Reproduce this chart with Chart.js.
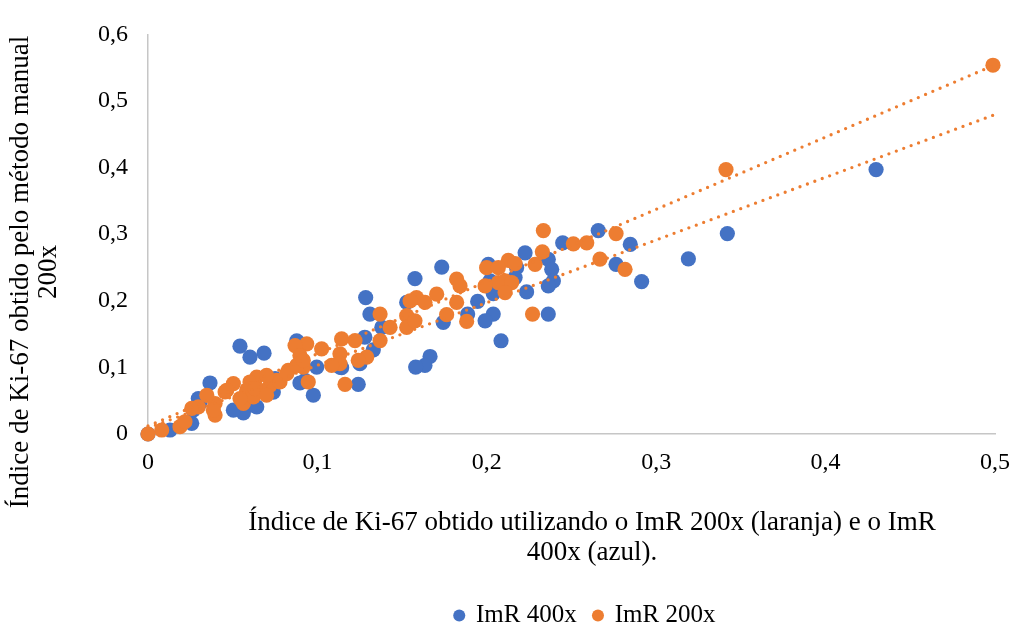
<!DOCTYPE html>
<html>
<head>
<meta charset="utf-8">
<script src="https://cdn.jsdelivr.net/npm/chart.js@4.4.0/dist/chart.umd.min.js"></script>
<style>
html,body{margin:0;padding:0;background:#fff;}
#wrap{width:1013px;height:623px;position:relative;}
</style>
</head>
<body>
<div id="wrap"><canvas id="c" width="1013" height="623"></canvas></div>
<script>
// ---- data ----
const seriesNames = ["ImR 400x", "ImR 200x"];
const xTitleLines = ["Índice de Ki-67 obtido utilizando o ImR 200x (laranja) e o ImR", "400x (azul)."];
const yTitleLines = ["Índice de Ki-67 obtido pelo método manual", "200x"];
const xTickValues = [0, 0.1, 0.2, 0.3, 0.4, 0.5];
const yTickValues = [0, 0.1, 0.2, 0.3, 0.4, 0.5, 0.6];

const blue400x = [
[0.4298,0.397],[0.342,0.301],[0.319,0.263],[0.2914,0.2288],[0.2847,0.2846],[0.2763,0.2548],
[0.2658,0.3055],[0.2448,0.287],[0.2363,0.2622],[0.2383,0.2473],[0.2393,0.2299],[0.2363,0.2224],
[0.2363,0.180],[0.2226,0.272],[0.2235,0.2134],[0.2176,0.2497],[0.2167,0.2348],[0.2019,0.2299],
[0.2009,0.2548],[0.2038,0.2109],[0.2038,0.180],[0.199,0.170],[0.1946,0.199],[0.1887,0.180],
[0.2084,0.140],[0.1743,0.1676],[0.1734,0.2507],[0.1576,0.2333],[0.1527,0.1975],[0.1285,0.2049],
[0.131,0.180],[0.138,0.160],[0.1665,0.1164],[0.1635,0.103],[0.158,0.1005],[0.128,0.1453],
[0.133,0.1264],[0.1241,0.0746],[0.1251,0.1055],[0.1143,0.0995],[0.1133,0.1005],[0.0996,0.1005],
[0.0976,0.0582],[0.0927,0.0806],[0.0897,0.1358],[0.0878,0.140],[0.0897,0.0766],[0.075,0.083],
[0.074,0.063],[0.0685,0.1214],[0.0602,0.1154],[0.0543,0.1318],[0.0366,0.0766],[0.0642,0.0408],
[0.0622,0.0433],[0.0563,0.0318],[0.0504,0.0358],[0.0307,0.0467],[0.0297,0.0533],[0.0267,0.0358],
[0.0258,0.016],[0.013,0.006],[0.0,0.0]
];
const orange200x = [
[0.4988,0.5537],[0.3412,0.397],[0.2763,0.301],[0.2668,0.2627],[0.2816,0.2473],[0.2334,0.3055],
[0.2511,0.2855],[0.259,0.287],[0.2328,0.2736],[0.2285,0.2548],[0.2127,0.2607],[0.2167,0.2557],
[0.1999,0.2497],[0.2068,0.2497],[0.2108,0.2299],[0.2068,0.2273],[0.2147,0.2273],[0.2108,0.2124],
[0.199,0.2224],[0.1822,0.2324],[0.1842,0.2224],[0.1822,0.1975],[0.1763,0.1791],[0.1881,0.1691],
[0.227,0.180],[0.1704,0.21],[0.1585,0.2049],[0.1635,0.1975],[0.1547,0.200],[0.1527,0.1776],
[0.1527,0.160],[0.1576,0.170],[0.1429,0.160],[0.137,0.180],[0.137,0.1403],[0.1291,0.1154],
[0.1241,0.1104],[0.1222,0.1403],[0.1143,0.1428],[0.1133,0.1204],[0.1163,0.0746],[0.1025,0.1279],
[0.0937,0.1354],[0.0946,0.0781],[0.0917,0.1005],[0.1133,0.1055],[0.1084,0.103],[0.0868,0.1328],
[0.0897,0.1179],[0.0828,0.0955],[0.076,0.0806],[0.0642,0.0855],[0.0602,0.0781],[0.0583,0.0657],
[0.0563,0.0458],[0.0504,0.0757],[0.0455,0.0631],[0.0396,0.0284],[0.0396,0.0458],[0.0347,0.0582],
[0.0297,0.0408],[0.0258,0.0384],[0.0189,0.011],[0.0218,0.0184],[0.0081,0.006],[0.0,0.0],
[0.072,0.0731],[0.0661,0.0657],[0.070,0.088],[0.0622,0.0557],[0.0543,0.0533],[0.0386,0.0358],
[0.0465,0.0657],[0.0632,0.0682],[0.070,0.0582],[0.0779,0.0781],[0.0819,0.0906],[0.0878,0.103],
[0.0917,0.1104]
];
// linear trend lines (endpoints)
const trendUpper = [[0, 0.012], [0.4988, 0.553]];
const trendLower = [[0, 0.009], [0.5, 0.4796]];

// ---- styling ----
const BLUE = "#4472C4", ORANGE = "#ED7D31";
const FONT = "'Liberation Serif', 'Times New Roman', serif";
const toPts = a => a.map(p => ({x: p[0], y: p[1]}));
const fmt = v => { const r = Math.round(v * 10) / 10; return r === 0 ? "0" : r.toFixed(1).replace(".", ","); };

const titlePlugin = {
  id: "axisTitles",
  afterLayout(chart) {
    const lg = chart.legend;
    if (lg && lg.lineWidths) {
      const pad = lg.options.labels.padding;
      const start = (lg.left + pad + lg.right - lg.lineWidths[0]) / 2;
      const shift = 455 - start;
      lg.left += shift; lg.right += shift;
      const h = lg.height; lg.top = 586; lg.bottom = 586 + h;
    }
  },
  afterDraw(chart) {
    const ctx = chart.ctx;
    ctx.save();
    ctx.fillStyle = "#000";
    ctx.font = "27px " + FONT;
    ctx.textAlign = "center";
    ctx.textBaseline = "middle";
    ctx.fillText(xTitleLines[0], 592, 523);
    ctx.fillText(xTitleLines[1], 592, 553);
    ctx.translate(0, 272);
    ctx.rotate(-Math.PI / 2);
    ctx.fillText(yTitleLines[0], 0, 21);
    ctx.fillText(yTitleLines[1], 0, 49);
    ctx.restore();
  }
};

const ptCommon = {showLine: false, pointRadius: 7.6, pointHoverRadius: 7.6, pointBorderWidth: 0, clip: false};
const trendCommon = {showLine: true, pointRadius: 0, borderColor: ORANGE, borderWidth: 3.3,
  borderDash: [0, 7.9], borderCapStyle: "round", fill: false, clip: false, tension: 0};

new Chart(document.getElementById("c"), {
  type: "scatter",
  data: {
    datasets: [
      Object.assign({label: seriesNames[0], data: toPts(blue400x), backgroundColor: BLUE, borderColor: BLUE, order: 4}, ptCommon),
      Object.assign({label: seriesNames[1], data: toPts(orange200x), backgroundColor: ORANGE, borderColor: ORANGE, order: 3}, ptCommon),
      Object.assign({label: "trend1", data: toPts(trendUpper), order: 1}, trendCommon),
      Object.assign({label: "trend2", data: toPts(trendLower), order: 2}, trendCommon)
    ]
  },
  options: {
    responsive: false,
    animation: false,
    events: [],
    layout: {padding: {left: 0, right: 18, top: 32, bottom: 0}},
    plugins: {
      tooltip: {enabled: false},
      legend: {
        display: true,
        position: "bottom",
        labels: {
          filter: item => item.datasetIndex < 2,
          sort: (a, b) => a.datasetIndex - b.datasetIndex,
          usePointStyle: true,
          pointStyle: "circle",
          boxHeight: 8.5,
          boxWidth: 8.5,
          padding: 17,
          color: "#000",
          font: {family: FONT, size: 25}
        }
      }
    },
    scales: {
      x: {
        type: "linear", min: 0, max: 0.5,
        afterBuildTicks: s => { s.ticks = xTickValues.map(v => ({value: v})); },
        afterFit: s => {
          const lh = s.chart.legend ? s.chart.legend.height : 0;
          s.height = 623 - 434 - lh;
          s.paddingLeft = 0; s.paddingRight = 0;
        },
        grid: {display: false, drawTicks: false},
        border: {display: true, color: "#c6c6c6", width: 1.5},
        ticks: {padding: 14, color: "#000", font: {family: FONT, size: 24}, callback: v => fmt(v), maxRotation: 0}
      },
      y: {
        type: "linear", min: 0, max: 0.6,
        afterBuildTicks: s => { s.ticks = yTickValues.map(v => ({value: v})); },
        afterFit: s => { s.width = 148; },
        grid: {display: false, drawTicks: false},
        border: {display: true, color: "#c6c6c6", width: 1.5},
        ticks: {padding: 20, color: "#000", font: {family: FONT, size: 24}, callback: v => fmt(v)}
      }
    }
  },
  plugins: [titlePlugin]
});
</script>
</body>
</html>
